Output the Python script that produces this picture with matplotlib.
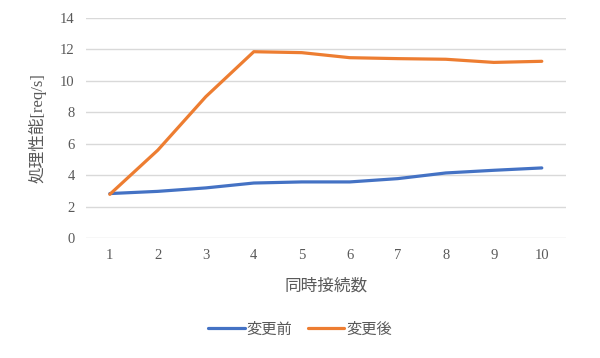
import matplotlib.pyplot as plt

plt.rcParams['font.family'] = ['Liberation Serif', 'Noto Sans CJK JP']

x_labels = ['1', '2', '3', '4', '5', '6', '7', '8', '9', '10']
before = [2.83, 2.97, 3.19, 3.50, 3.57, 3.57, 3.78, 4.14, 4.31, 4.46]
after = [2.78, 5.59, 8.99, 11.85, 11.79, 11.47, 11.41, 11.37, 11.17, 11.24]

fig = plt.figure(figsize=(6, 3.58), dpi=100)
ax = fig.add_axes([0.143, 0.335, 0.8, 0.615])

xs = range(len(x_labels))
ax.plot(xs, before, color='#4472C4', lw=2.3, label='変更前', solid_capstyle='round')
ax.plot(xs, after, color='#ED7D31', lw=2.3, label='変更後', solid_capstyle='round')

ax.set_xlim(-0.5, len(x_labels) - 0.5)
ax.set_ylim(0, 14)
ax.set_yticks(range(0, 15, 2))
ax.set_xticks(list(xs))
ax.set_xticklabels(x_labels)
ax.grid(axis='y', color='#D9D9D9', lw=1)
ax.set_axisbelow(True)
for s in ax.spines.values():
    s.set_visible(False)
ax.tick_params(length=0, labelsize=10.5, colors='#595959', pad=8)

ax.set_xlabel('同時接続数', fontsize=12, color='#595959', labelpad=12)
ax.set_ylabel('処理性能[req/s]', fontsize=12, color='#595959', labelpad=10)

fig.legend(loc='center', bbox_to_anchor=(0.5, 0.08), ncol=2, frameon=False,
           fontsize=11, labelcolor='#595959', handlelength=2.4, columnspacing=1.0,
           handletextpad=0.1)

fig.savefig('out.png', dpi=100)
